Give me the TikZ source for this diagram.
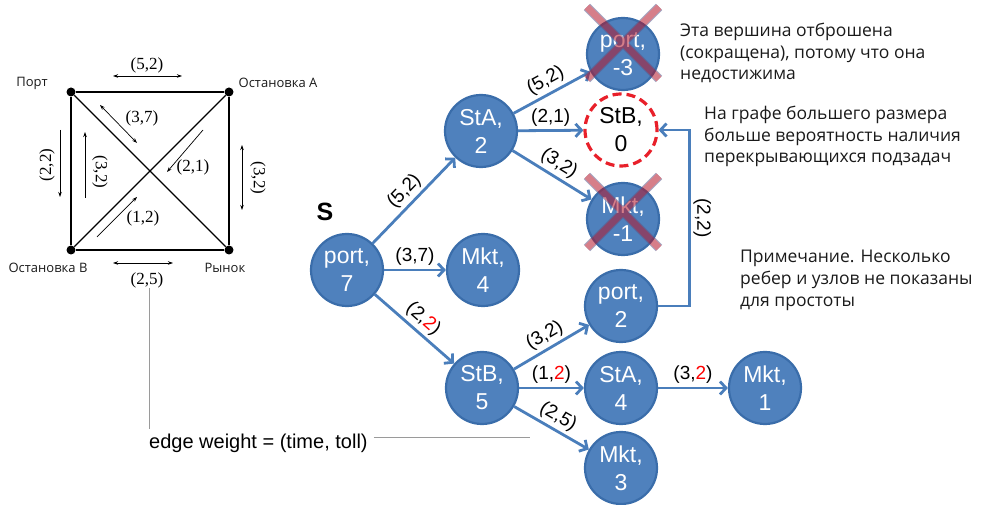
\documentclass[tikz,border=0pt]{standalone}
\usepackage{fontspec}
\setmainfont{Liberation Sans}
\newfontfamily\notefont{Open Sans}
\newfontfamily\costfont{Liberation Serif}
\usetikzlibrary{arrows.meta, positioning}
\definecolor{ink}{HTML}{1A1A1A}
\definecolor{nodefill}{HTML}{4F81BD}
\definecolor{nodeline}{HTML}{3A6DAA}
\definecolor{edgeblue}{HTML}{4A7EBB}
\definecolor{dashred}{HTML}{E8202A}
\definecolor{xpink}{HTML}{B41428}
\definecolor{xline}{HTML}{5A5A8C}
\definecolor{calloutgray}{HTML}{9A9A9A}
\tikzset{
  state/.style={circle, draw=nodeline, line width=2.2pt, fill=nodefill, minimum size=72pt, inner sep=0pt, align=center, text=white, font=\fontsize{23}{28}\selectfont},
  pruned/.style={state, fill=white, draw=dashred, dash pattern=on 9pt off 5pt, line width=3.2pt, text=black},
  arrow/.style={-{Straight Barb[length=6pt,width=13pt]}, line width=2.8pt, draw=edgeblue},
  weight/.style={font=\fontsize{19}{21}\selectfont, text=black, inner sep=3pt},
  note/.style={font=\notefont\fontsize{17.5}{21.7}\selectfont, text=ink, align=left, anchor=north west, inner sep=0pt},
  xborder/.style={line width=9pt, draw=xline},
  xcore/.style={line width=7pt, draw=xpink},
  corner/.style={circle, fill=black, minimum size=9pt, inner sep=0pt},
  road/.style={line width=1.2pt, draw=black},
  flow/.style={-{Stealth[length=5pt,width=3.5pt]}, line width=0.7pt},
  twoway/.style={{Stealth[length=5pt,width=3.5pt]}-{Stealth[length=5pt,width=3.5pt]}, line width=0.7pt},
  cost/.style={font=\costfont\fontsize{17}{19}\selectfont, inner sep=0pt},
  place/.style={font=\notefont\fontsize{13}{15}\selectfont, text=ink, inner sep=0pt},
  callout/.style={draw=calloutgray, line width=1pt}
}
\newcommand{\tollred}[1]{\textcolor{red}{#1}}

\begin{document}
\begin{tikzpicture}[x=1pt,y=1pt]
\useasboundingbox (0,0) rectangle (994,505);

\node[corner] (port) at (71,413) {};
\node[corner] (stopA) at (229,413) {};
\node[corner] (stopB) at (71,255) {};
\node[corner] (market) at (229,255) {};
\draw[road] (port) -- (stopA) -- (market) -- (stopB) -- (port);
\draw[road] (port) -- (market);
\draw[road] (stopA) -- (stopB);

\node[place] at (32,422) {Порт};
\node[place] at (278,422) {Остановка A};
\node[place] at (48,237) {Остановка B};
\node[place] at (225,237) {Рынок};

\draw[twoway] (113,429) -- (182,429);
\node[cost] at (147,440) {(5,2)};
\draw[twoway] (113,242) -- (173,242);
\node[cost] at (147,225) {(2,5)};
\draw[twoway] (100,400) -- (137,362);
\node[cost] at (142,387) {(3,7)};
\draw[flow] (203,375) -- (167,333);
\node[cost] at (193,338) {(2,1)};
\draw[flow] (97,268) -- (137,308);
\node[cost] at (143,287) {(1,2)};
\draw[flow] (60,375) -- (60,308);
\node[cost, rotate=90] at (47,340) {(2,2)};
\draw[flow] (85,307) -- (85,373);
\node[cost, rotate=-90] at (100,333) {(3,2)};
\draw[twoway] (242,360) -- (242,295);
\node[cost, rotate=-90] at (258,327) {(3,2)};

\node[font=\bfseries\fontsize{25}{25}\selectfont] (start) at (325,293) {S};

\node[state] (p7) at (347,235) {port,\\7};
\node[state] (m4) at (483,235) {Mkt,\\4};
\node[state] (sa2) at (481,374) {StA,\\2};
\node[state] (pm3) at (623,451) {port,\\-3};
\node[pruned] (sb0) at (621,375) {StB,\\0};
\node[state] (mm1) at (623,286) {Mkt,\\-1};
\node[state] (p2) at (621,199) {port,\\2};
\node[state] (sb5) at (482,117) {StB,\\5};
\node[state] (sa4) at (621,117) {StA,\\4};
\node[state] (m1) at (765,117) {Mkt,\\1};
\node[state] (m3) at (621,37) {Mkt,\\3};

\draw[arrow] (p7) -- node[weight, midway, above, sloped] {(5,2)} (sa2);
\draw[arrow] (p7) -- node[weight, midway, above] {(3,7)} (m4);
\draw[arrow] (p7) -- node[weight, midway, above, sloped] {(2,\tollred{2})} (sb5);
\draw[arrow] (sa2) -- node[weight, midway, above, sloped] {(5,2)} (pm3);
\draw[arrow] (sa2) -- node[weight, midway, above] {(2,1)} (sb0);
\draw[arrow] (sa2) -- node[weight, midway, above, sloped] {(3,2)} (mm1);
\draw[arrow] (sb5) -- node[weight, midway, above, sloped] {(3,2)} (p2);
\draw[arrow] (sb5) -- node[weight, midway, above] {(1,\tollred{2})} (sa4);
\draw[arrow] (sb5) -- node[weight, midway, above, sloped] {(2,5)} (m3);
\draw[arrow] (sa4) -- node[weight, midway, above] {(3,\tollred{2})} (m1);
\draw[arrow] (p2.east) -- ++(31,0) |- node[weight, pos=0.25, anchor=south, rotate=-90] {(2,2)} (sb0.east);

\begin{scope}[transparency group, opacity=0.55]
\draw[xborder] ([shift={(-36,47)}]pm3.center) -- ([shift={(36,-25)}]pm3.center);
\draw[xborder] ([shift={(36,47)}]pm3.center) -- ([shift={(-36,-25)}]pm3.center);
\draw[xcore] ([shift={(-36,47)}]pm3.center) -- ([shift={(36,-25)}]pm3.center);
\draw[xcore] ([shift={(36,47)}]pm3.center) -- ([shift={(-36,-25)}]pm3.center);
\draw[xborder] ([shift={(-36,43)}]mm1.center) -- ([shift={(36,-29)}]mm1.center);
\draw[xborder] ([shift={(36,43)}]mm1.center) -- ([shift={(-36,-29)}]mm1.center);
\draw[xcore] ([shift={(-36,43)}]mm1.center) -- ([shift={(36,-29)}]mm1.center);
\draw[xcore] ([shift={(36,43)}]mm1.center) -- ([shift={(-36,-29)}]mm1.center);
\end{scope}

\node[note] (prunenote) at (680,482) {Эта вершина отброшена\\(сокращена), потому что она\\недостижима};
\node[note] (overlapnote) at (704,399) {На графе большего размера\\больше вероятность наличия\\перекрывающихся подзадач};
\node[note] (skipnote) at (740,255) {Примечание. Несколько\\ребер и узлов не показаны\\для простоты};

\node[font=\fontsize{20}{22}\selectfont, inner sep=0pt, anchor=west] (legend) at (149,62) {edge weight = (time, toll)};
\coordinate (w25) at (149,217);
\coordinate (callend) at (530,67);
\draw[callout] (w25) -- ([yshift=4pt]w25 |- legend.north);
\draw[callout] ([xshift=6pt]legend.east |- callend) -- (callend);

\end{tikzpicture}
\end{document}
